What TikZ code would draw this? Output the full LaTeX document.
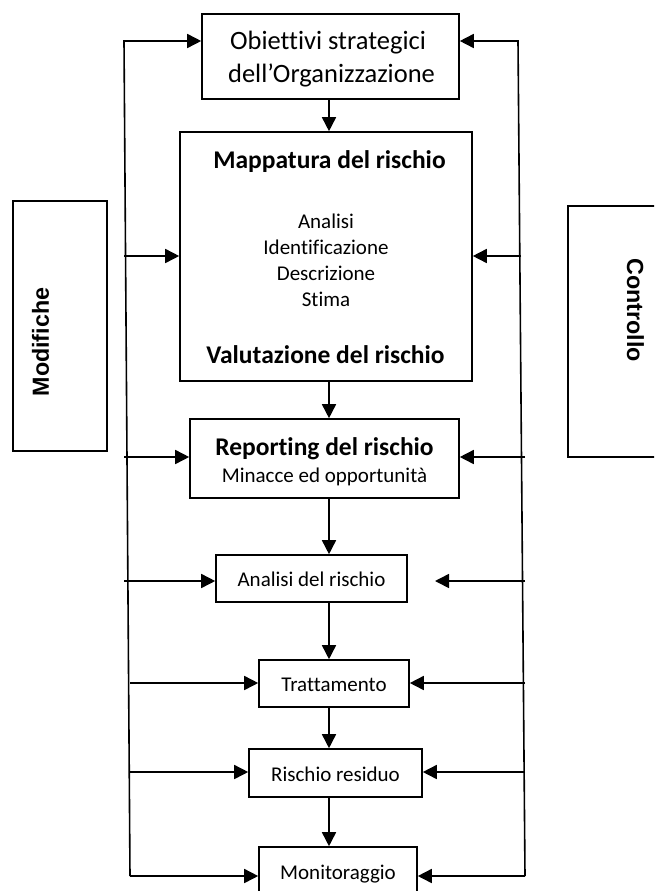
\documentclass[tikz,border=0pt]{standalone}
\usepackage{fontspec}
\setmainfont{Carlito}[Ligatures=NoCommon]
\newfontfamily\arialfont{Liberation Sans}
\usetikzlibrary{arrows.meta}
\tikzset{
  box/.style={draw, line width=1.6pt, inner sep=0pt},
  arr/.style={line width=1.6pt, -{Triangle[length=14pt,width=14pt]}},
  ln/.style={line width=1.6pt},
  txt/.style={inner sep=0pt, anchor=base},
  bigtxt/.style={txt, font=\fontsize{26.5}{32}\selectfont},
  regtxt/.style={txt, font=\fontsize{21}{25}\selectfont},
  boldtxt/.style={txt, font=\fontsize{25.5}{30}\selectfont\bfseries},
  sidetxt/.style={inner sep=0pt, font=\fontsize{23.3}{28}\selectfont\arialfont\bfseries},
}
\begin{document}
\begin{tikzpicture}[x=1pt, y=-1pt]
\useasboundingbox (0,0) rectangle (654,891);
\clip (0,0) rectangle (654,891);

% side boxes
\node[box, minimum width=94pt, minimum height=250pt] (mod) at (60,326) {};
\node[sidetxt, rotate=90] (modt) at (40.5,342) {Modifiche};
\node[box, minimum width=152pt, minimum height=251pt] (con) at (644,331.5) {};
\node[sidetxt, rotate=-90] (cont) at (635.5,310) {Controllo};

% main boxes
\node[box, minimum width=257pt, minimum height=85pt] (b1) at (330.5,56.5) {};
\node[bigtxt] (t1a) at (328,50) {Obiettivi strategici};
\node[bigtxt] (t1b) at (331.5,82) {dell’Organizzazione};

\node[box, minimum width=292pt, minimum height=249pt] (b2) at (326,256.5) {};
\node[boldtxt] (t2a) at (329.5,168) {Mappatura del rischio};
\node[regtxt] (t2b) at (326,228) {Analisi};
\node[regtxt] (t2c) at (326,254) {Identificazione};
\node[regtxt] (t2d) at (326,280) {Descrizione};
\node[regtxt] (t2e) at (326,306) {Stima};
\node[boldtxt] (t2f) at (325.5,363) {Valutazione del rischio};

\node[box, minimum width=269pt, minimum height=79pt] (b3) at (324.5,458.5) {};
\node[boldtxt] (t3a) at (324.5,455) {Reporting del rischio};
\node[regtxt] (t3b) at (324.5,482) {Minacce ed opportunità};

\node[box, minimum width=191pt, minimum height=47pt] (b4) at (311.5,578.5) {};
\node[regtxt] (t4) at (311.5,586) {Analisi del rischio};

\node[box, minimum width=150pt, minimum height=47pt] (b5) at (334,683.5) {};
\node[regtxt] (t5) at (334,691) {Trattamento};

\node[box, minimum width=173pt, minimum height=48pt] (b6) at (335.5,773) {};
\node[regtxt] (t6) at (335.5,781) {Rischio residuo};

\node[box, minimum width=158pt, minimum height=80pt] (b7) at (338,887) {};
\node[regtxt] (t7) at (338,879) {Monitoraggio};

% central connectors
\coordinate (cx) at (329,0);
\draw[arr] (b1.south -| cx) -- (b2.north -| cx);
\draw[arr] (b2.south -| cx) -- (b3.north -| cx);
\draw[arr] (b3.south -| cx) -- (b4.north -| cx);
\draw[arr] (b4.south -| cx) -- (b5.north -| cx);
\draw[arr] (b5.south -| cx) -- (b6.north -| cx);
\draw[arr] (b6.south -| cx) -- (b7.north -| cx);

% left loop
\coordinate (L1) at (124,41);
\coordinate (L2) at (130,876);
\draw[arr] (L2) -- (L1) -- (b1.west |- L1);
\draw[arr] (L2) -- (b7.west |- L2);
\coordinate (la2) at (124,256);
\coordinate (la3) at (124,457);
\coordinate (la4) at (124,581);
\coordinate (la5) at (130,683);
\coordinate (la6) at (130,772);
\draw[arr] (la2) -- (b2.west |- la2);
\draw[arr] (la3) -- (b3.west |- la3);
\draw[arr] (la4) -- (b4.west |- la4);
\draw[arr] (la5) -- (b5.west |- la5);
\draw[arr] (la6) -- (b6.west |- la6);

% right loop
\coordinate (R1) at (518,41);
\coordinate (R2) at (525,876);
\draw[arr] (R2) -- (R1) -- (b1.east |- R1);
\draw[arr] (R2) -- (b7.east |- R2);
\coordinate (ra2) at (521,256);
\coordinate (ra3) at (525,457);
\coordinate (ra4) at (525,581);
\coordinate (ra5) at (525,683);
\coordinate (ra6) at (525,772);
\coordinate (e4) at (435,581);
\draw[arr] (ra2) -- (b2.east |- ra2);
\draw[arr] (ra3) -- (b3.east |- ra3);
\draw[arr] (ra4) -- (e4);
\draw[arr] (ra5) -- (b5.east |- ra5);
\draw[arr] (ra6) -- (b6.east |- ra6);
\end{tikzpicture}
\end{document}
